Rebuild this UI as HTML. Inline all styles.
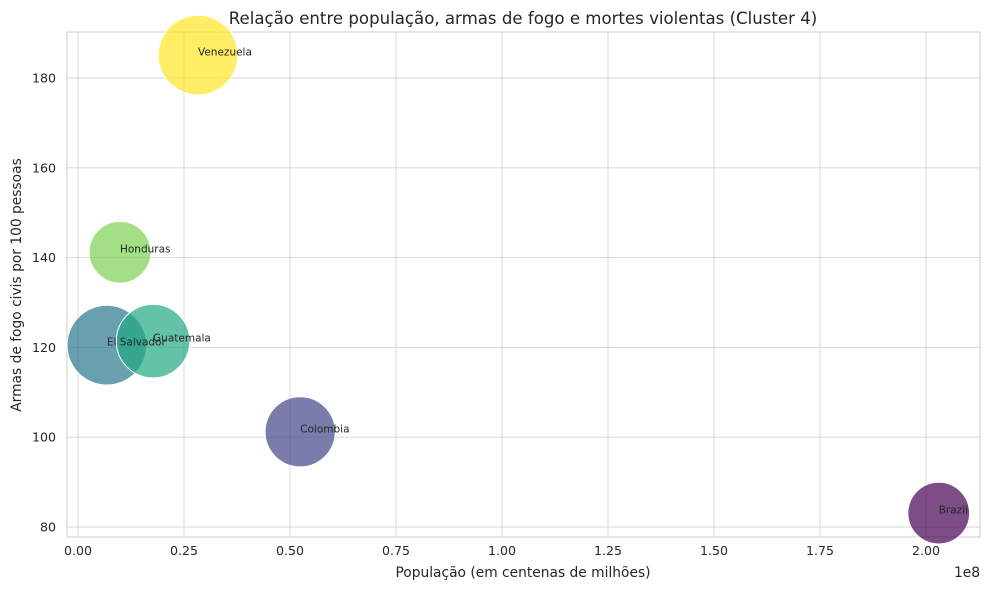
<!DOCTYPE html>
<html><head><meta charset="utf-8"><style>
body{margin:0;background:#fff;font-family:"Liberation Sans","DejaVu Sans",sans-serif;}
</style></head><body>
<svg id="chart" width="989" height="590" xmlns="http://www.w3.org/2000/svg" font-family="DejaVu Sans, Liberation Sans, sans-serif">
<rect width="989" height="590" fill="#fff"/>
<text x="523" y="24" text-anchor="middle" font-size="16.6" fill="#262626">Relação entre população, armas de fogo e mortes violentas (Cluster 4)</text>
<g id="grid"></g>
<rect x="67" y="32" width="913" height="505" fill="none" stroke="#cccccc" stroke-width="1"/>
<g id="marks"></g>
<text x="523" y="577" text-anchor="middle" font-size="13.8" fill="#262626">População (em centenas de milhões)</text>
<text x="980" y="577" text-anchor="end" font-size="13.8" fill="#262626">1e8</text>
<text transform="translate(21,285) rotate(-90)" text-anchor="middle" font-size="13.8" fill="#262626">Armas de fogo civis por 100 pessoas</text>
</svg>
<script>
const countries=["Brazil","Colombia","El Salvador","Guatemala","Honduras","Venezuela"];
const population=[2.03e8,0.524e8,0.068e8,0.177e8,0.099e8,0.283e8];
const guns=[83.1,101.2,120.5,121.4,141.2,185.1];
const deaths=[24,31,40,34,24,40];
const colors=["#440154","#414487","#2a788e","#22a884","#7ad151","#fde725"];
const xTicks=[0,0.25e8,0.5e8,0.75e8,1e8,1.25e8,1.5e8,1.75e8,2e8];
const xTickLabels=["0.00","0.25","0.50","0.75","1.00","1.25","1.50","1.75","2.00"];
const yTicks=[80,100,120,140,160,180];
const yTickLabels=["80","100","120","140","160","180"];
const NS="http://www.w3.org/2000/svg";
function xs(v){return 78+v/1e8*424;}
function ys(v){return 527-(v-80)*4.49;}
function rs(v){return Math.sqrt(v)*6.3;}
const grid=document.getElementById('grid'),marks=document.getElementById('marks');
function mk(tag,attrs,parent){const e=document.createElementNS(NS,tag);for(const k in attrs)e.setAttribute(k,attrs[k]);parent.appendChild(e);return e;}
xTicks.forEach((t,i)=>{
  const l=mk('line',{x1:xs(t),x2:xs(t),y1:32,y2:537,stroke:'#d4d4d4','stroke-width':0.9},grid);
  
  
  const tx=mk('text',{x:xs(t),y:555,'text-anchor':'middle','font-size':12.6,fill:'#262626'},grid);
  tx.textContent=xTickLabels[i];
  
  
});
yTicks.forEach((t,i)=>{
  const l=mk('line',{x1:67,x2:980,y1:ys(t),y2:ys(t),stroke:'#d4d4d4','stroke-width':0.9},grid);
  
  
  const tx=mk('text',{x:56,y:ys(t)+4.5,'text-anchor':'end','font-size':12.6,fill:'#262626'},grid);
  tx.textContent=yTickLabels[i];
  
  
});
countries.forEach((c,i)=>{
  const b=mk('circle',{cx:xs(population[i]),cy:ys(guns[i]),r:rs(deaths[i]),fill:colors[i],'fill-opacity':0.7,stroke:'#fff','stroke-width':1},marks);
  
  
});
countries.forEach((c,i)=>{
  const t=mk('text',{x:xs(population[i]),y:ys(guns[i])+0.5,'font-size':10.5,fill:'#262626'},marks);
  t.textContent=c;
  
  
});
</script>
</body></html>
